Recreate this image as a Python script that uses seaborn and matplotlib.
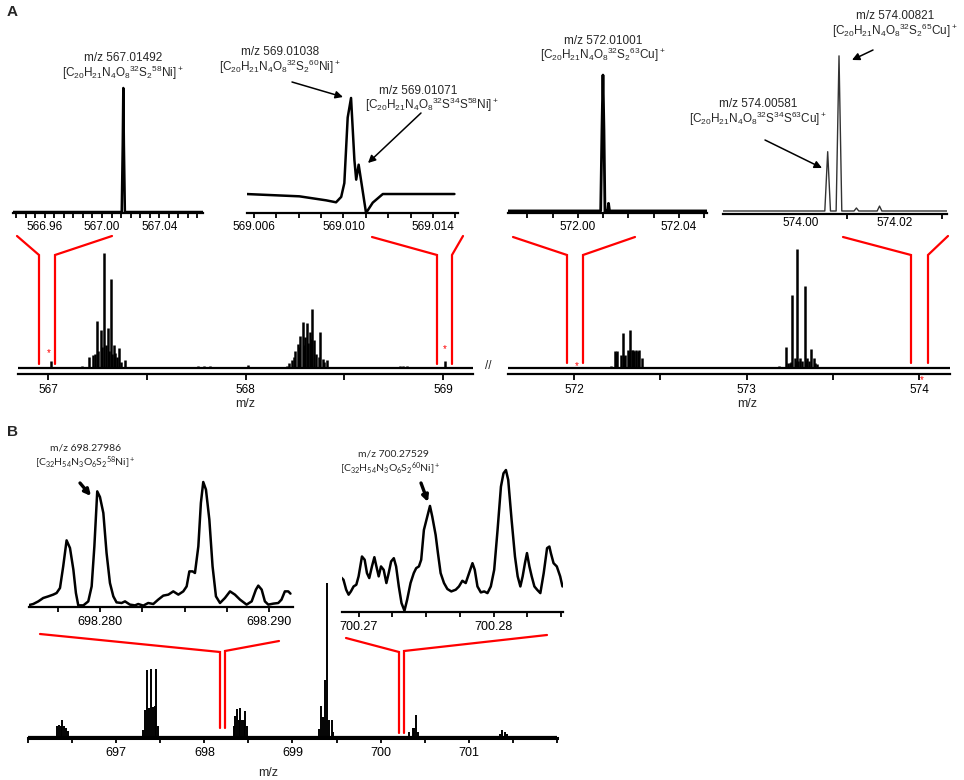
import numpy as np
import pandas as pd
import matplotlib
matplotlib.use('Agg')
import matplotlib.pyplot as plt
from matplotlib.ticker import MultipleLocator, FixedLocator, FormatStrFormatter
import seaborn as sns

sns.set_theme(style='white')
plt.rcParams['font.family'] = ['Liberation Sans', 'DejaVu Sans']
plt.rcParams['mathtext.default'] = 'regular'

W, H = 964, 780

# ---------------- DATA ----------------
# Panel A inset profiles
ins1_mz = [566.9378, 567.0138, 567.0145, 567.0149, 567.0153, 567.0160, 567.0706]
ins1_int = [0.8, 0.8, 55, 100, 55, 0.8, 0.8]

ins2_mz = [569.00565, 569.00803, 569.00923, 569.00967, 569.00990, 569.01004, 569.01019,
           569.01034, 569.01049, 569.01057, 569.01068, 569.01083, 569.01101, 569.01131,
           569.01176, 569.01496]
ins2_int = [16.5, 14.5, 11, 9.3, 14, 26, 83, 100, 46, 29, 42, 23, 0, 9, 16.5, 16.5]

ins3_mz = [571.9723, 572.0090, 572.0095, 572.0099, 572.0103, 572.0107, 572.0112,
           572.0118, 572.0121, 572.0125, 572.0511]
ins3_int = [1.5, 1.5, 60, 100, 60, 0.3, 1.5, 1.5, 7, 1.5, 1.5]

ins4_mz = [573.98361, 574.0052, 574.00581, 574.0064, 574.0076, 574.00821, 574.0088,
           574.0114, 574.0119, 574.0124, 574.0163, 574.0168, 574.0173, 574.03111]
ins4_int = [1.9, 1.9, 39.4, 1.9, 1.9, 100, 1.9, 1.9, 3.8, 1.9, 1.9, 5.0, 1.9, 1.9]

# Panel A main stick spectra
mainAL_mz = [567.015, 567.170, 567.209, 567.226, 567.240, 567.248, 567.255, 567.268,
             567.275, 567.285, 567.295, 567.302, 567.310, 567.319, 567.325, 567.333,
             567.341, 567.350, 567.358, 567.370, 567.392, 567.760, 567.790, 567.820,
             568.011, 568.080, 568.210, 568.220, 568.235, 568.245, 568.252, 568.264,
             568.270, 568.278, 568.289, 568.295, 568.300, 568.311, 568.318, 568.325,
             568.330, 568.337, 568.349, 568.355, 568.370, 568.379, 568.391, 568.400,
             568.413, 568.780, 568.800, 568.820, 569.008]
mainAL_int = [6, 1.5, 10, 11, 12, 41, 15, 33, 18, 100, 20, 35, 15, 77, 12, 20,
              13, 10, 17, 5, 7, 1.5, 2, 1.5,
              3, 1, 2, 4, 7, 10, 15, 21, 18, 28, 40, 20, 27, 39, 22, 31,
              25, 51, 24, 12, 10, 31, 8, 5, 7, 1.5, 2, 1.5, 6]

mainAR_mz = [571.800, 572.010, 572.213, 572.236, 572.244, 572.251, 572.274, 572.284,
             572.290, 572.298, 572.313, 572.320, 572.327, 572.335, 572.342, 572.350,
             572.361, 572.370, 572.377, 572.394, 572.790, 573.188, 573.227, 573.240,
             573.250, 573.260, 573.266, 573.279, 573.285, 573.295, 573.300, 573.312,
             573.320, 573.337, 573.345, 573.353, 573.365, 573.376, 573.391, 573.400,
             573.411, 573.790, 574.008]
mainAR_int = [1, 1, 2, 14, 13, 14, 11, 29, 10, 11, 15, 14, 32, 15, 15, 14,
              15, 14, 15, 8, 1, 2, 18, 4, 4, 5, 61, 8, 6, 100, 6, 8,
              6, 69, 6, 8, 6, 16, 8, 4, 3, 1, 0.6]

# Panel B inset profiles
insB1_mz = [698.27583, 698.27606, 698.27636, 698.27665, 698.27695, 698.27724, 698.27744,
            698.27764, 698.27783, 698.27803, 698.27823, 698.27843, 698.27858, 698.27872,
            698.27902, 698.27931, 698.27951, 698.27967, 698.27984, 698.28000, 698.28020,
            698.28039, 698.28059, 698.28079, 698.28098, 698.28128, 698.28148, 698.28177,
            698.28207, 698.28226, 698.28256, 698.28285, 698.28315, 698.28344, 698.28374,
            698.28404, 698.28433, 698.28463, 698.28492, 698.28512, 698.28528, 698.28547,
            698.28561, 698.28581, 698.28596, 698.28610, 698.28626, 698.28646, 698.28665,
            698.28685, 698.28709, 698.28738, 698.28768, 698.28797, 698.28827, 698.28866,
            698.28896, 698.28921, 698.28935, 698.28955, 698.28974, 698.28994, 698.29024,
            698.29053, 698.29072, 698.29092, 698.29112, 698.29125]
insB1_int = [1.6, 2.4, 4.5, 7.2, 8.5, 9.9, 11.2, 15.2, 32.5, 53.3, 47.2, 29.9, 11.2, 1.3,
             1.3, 4.5, 16.5, 48.5, 92.5, 88, 75.2, 43.2, 19.2, 8.5, 3.7, 3.2, 4.5, 1.9,
             1.3, 2.4, 1.1, 3.2, 2.4, 5.9, 9.1, 9.9, 12.5, 9.9, 12.5, 16.5, 28.5, 28.5,
             27.2, 48.5, 83.2, 100, 93.9, 69.9, 32.5, 8.5, 3.2, 7.2, 12.5, 9.9, 5.9, 1.9,
             4.5, 13.9, 17.1, 13.9, 4.5, 1.9, 2.7, 3.2, 5.9, 12.5, 12.5, 10.7]

insB2_mz = [700.26868, 700.26888, 700.26908, 700.26926, 700.26943, 700.26963, 700.26983,
            700.27000, 700.27025, 700.27045, 700.27062, 700.27079, 700.27099, 700.27117,
            700.27132, 700.27149, 700.27166, 700.27186, 700.27206, 700.27223, 700.27241,
            700.27261, 700.27278, 700.27298, 700.27318, 700.27340, 700.27360, 700.27385,
            700.27409, 700.27427, 700.27447, 700.27464, 700.27484, 700.27509, 700.27529,
            700.27546, 700.27571, 700.27588, 700.27608, 700.27633, 700.27658, 700.27687,
            700.27720, 700.27744, 700.27769, 700.27794, 700.27819, 700.27844, 700.27861,
            700.27881, 700.27906, 700.27931, 700.27955, 700.27980, 700.28005, 700.28030,
            700.28055, 700.28074, 700.28092, 700.28109, 700.28134, 700.28159, 700.28179,
            700.28199, 700.28216, 700.28233, 700.28248, 700.28266, 700.28283, 700.28303,
            700.28323, 700.28347, 700.28372, 700.28397, 700.28414, 700.28425, 700.28445,
            700.28469, 700.28494, 700.28511]
insB2_int = [24.6, 22.7, 15.7, 12.2, 14.5, 18.0, 19.2, 25.1, 39.1, 36.8, 27.4, 23.9, 32.1,
             38.6, 32.1, 25.1, 32.1, 29.7, 20.4, 27.4, 35.6, 37.9, 32.1, 18.0, 6.3, 0.9,
             8.7, 20.4, 27.4, 30.9, 32.1, 36.8, 57.8, 67.2, 74.7, 67.2, 54.3, 41.5, 27.4,
             20.4, 16.2, 14.5, 15.7, 18.0, 22.0, 20.4, 27.4, 34.4, 29.7, 18.0, 13.8, 14.5,
             13.3, 18.0, 29.7, 57.8, 88.3, 97.7, 100, 93.0, 64.9, 39.1, 25.1, 18.0, 25.1,
             34.4, 41.5, 32.1, 25.1, 18.0, 15.7, 13.3, 27.4, 45.0, 46.1, 41.5, 34.4, 32.1,
             25.1, 18.0]

# Panel B main stick spectrum
mainB_mz = [696.333, 696.356, 696.375, 696.390, 696.409, 696.428, 696.451,
            697.303, 697.322, 697.348, 697.375, 697.394, 697.417, 697.436, 697.455, 697.473,
            698.333, 698.352, 698.371, 698.390, 698.409, 698.428, 698.447, 698.466, 698.485,
            699.295, 699.322, 699.345, 699.367, 699.390, 699.413, 699.443, 699.462,
            700.326, 700.364, 700.383, 700.402, 700.420,
            701.348, 701.379, 701.405, 701.432]
mainB_int = [6.9, 7.9, 7.3, 11.2, 7.3, 5.8, 3.7,
             4.7, 17.6, 43.4, 18.7, 43.9, 19.4, 20.2, 43.9, 6.9,
             6.9, 13.4, 18.1, 11.2, 18.7, 11.2, 11.2, 17.0, 6.9,
             5.0, 20.0, 12.9, 37.2, 100, 11.0, 10.8, 3.2,
             3.2, 5.6, 6.0, 14.0, 2.8,
             1.7, 4.3, 3.4, 2.1]

f_Ni58 = r'[C$_{20}$H$_{21}$N$_4$O$_8$$^{32}$S$_2$$^{58}$Ni]$^+$'
f_Ni60 = r'[C$_{20}$H$_{21}$N$_4$O$_8$$^{32}$S$_2$$^{60}$Ni]$^+$'
f_Ni58b = r'[C$_{20}$H$_{21}$N$_4$O$_8$$^{32}$S$^{34}$S$^{58}$Ni]$^+$'
f_Cu63 = r'[C$_{20}$H$_{21}$N$_4$O$_8$$^{32}$S$_2$$^{63}$Cu]$^+$'
f_Cu65 = r'[C$_{20}$H$_{21}$N$_4$O$_8$$^{32}$S$_2$$^{65}$Cu]$^+$'
f_Cu63b = r'[C$_{20}$H$_{21}$N$_4$O$_8$$^{32}$S$^{34}$S$^{63}$Cu]$^+$'
f_B58 = r'[C$_{32}$H$_{54}$N$_3$O$_6$S$_2$$^{58}$Ni]$^+$'
f_B60 = r'[C$_{32}$H$_{54}$N$_3$O$_6$S$_2$$^{60}$Ni]$^+$'

# ---------------- FIGURE ----------------
fig = plt.figure(figsize=(W / 100, H / 100), dpi=100)


def box(x0, x1, ybot, ytop):
    return fig.add_axes([x0 / W, 1 - ybot / H, (x1 - x0) / W, (ybot - ytop) / H])


def style(ax, xlim, ylim, major, minor, fmt, labelsize=8.5, tlen=3.6, pad=2.0,
          spine_lw=1.6, major_len=None):
    ax.set_xlim(*xlim)
    ax.set_ylim(*ylim)
    for s in ['top', 'right', 'left']:
        ax.spines[s].set_visible(False)
    ax.spines['bottom'].set_linewidth(spine_lw)
    ax.spines['bottom'].set_color('black')
    ax.set_yticks([])
    ax.xaxis.set_major_locator(FixedLocator(major))
    if minor is not None:
        ax.xaxis.set_minor_locator(minor)
    ax.xaxis.set_major_formatter(FormatStrFormatter(fmt))
    ax.tick_params(axis='x', which='both', bottom=True, top=False, direction='out',
                   length=tlen, width=1.3, color='black', pad=pad,
                   labelsize=labelsize, labelcolor='black')
    if major_len is not None:
        ax.tick_params(axis='x', which='major', length=major_len)
    ax.set_xlabel('')
    ax.set_ylabel('')
    ax.patch.set_alpha(0)


def profile(ax, mz, inten, lw=1.6, color='black'):
    df = pd.DataFrame({'mz': mz, 'int': inten})
    sns.lineplot(data=df, x='mz', y='int', ax=ax, estimator=None, sort=False,
                 color=color, lw=lw, legend=False)


# inset 1
a1 = box(13, 203, 213, 60)
profile(a1, ins1_mz, ins1_int, lw=1.8)
style(a1, (566.9378, 567.0706), (0, 122.4), [566.96, 567.00, 567.04],
      MultipleLocator(0.04 / 6), '%.2f')

# inset 2
a2 = box(247, 458, 213, 60)
profile(a2, ins2_mz, ins2_int, lw=1.8)
style(a2, (569.00569, 569.01512), (0, 133), [569.006, 569.010, 569.014],
      MultipleLocator(0.001), '%.3f')

# inset 3
a3 = box(508, 707, 213, 60)
profile(a3, ins3_mz, ins3_int, lw=2.0)
style(a3, (571.9723, 572.0511), (0, 110.9), [572.00, 572.04],
      MultipleLocator(0.01), '%.2f')

# inset 4
a4 = box(723, 947, 214, 10)
profile(a4, ins4_mz, ins4_int, lw=1.0, color='#333333')
style(a4, (573.98361, 574.03111), (0, 129), [574.00, 574.02],
      FixedLocator([574.01, 574.03]), '%.2f', major_len=0)

# main A left
mL = box(18, 473, 374, 240)
mL.vlines(mainAL_mz, 0, mainAL_int, color='black', lw=1.8)
mL.axhline(0, color='black', lw=1.6)
style(mL, (566.848, 569.152), (-5.2, 111.3), [567, 568, 569], MultipleLocator(0.5),
      '%d', labelsize=8.5, tlen=4.3, pad=3.2)

# main A right
mR = box(508, 950, 374, 240)
mR.vlines(mainAR_mz, 0, mainAR_int, color='black', lw=1.8)
mR.axhline(0, color='black', lw=1.6)
style(mR, (571.617, 574.18), (-5.0, 107.3), [572, 573, 574], MultipleLocator(0.5),
      '%d', labelsize=8.5, tlen=4.3, pad=3.2)

# inset B1
b1 = box(29, 293, 607, 457)
profile(b1, insB1_mz, insB1_int, lw=1.8)
style(b1, (698.27581, 698.29140), (0, 120), [698.280, 698.290], MultipleLocator(0.0025),
      '%.3f', labelsize=9, tlen=3.6, pad=3)

# inset B2
b2 = box(342, 563, 612, 452)
profile(b2, insB2_mz, insB2_int, lw=1.8)
style(b2, (700.26877, 700.28515), (0, 112.7), [700.27, 700.28], MultipleLocator(0.0025),
      '%.2f', labelsize=9, tlen=3.6, pad=3)

# main B
mB = box(28, 557, 738, 578)
mB.vlines(mainB_mz, 0, mainB_int, color='black', lw=1.4)
mB.axhline(0, color='black', lw=1.6)
style(mB, (696.0, 702.0), (-0.8, 103.2), [697, 698, 699, 700, 701], MultipleLocator(0.5),
      '%d', labelsize=9, tlen=3.6, pad=3, spine_lw=2.2)

# ---------------- OVERLAY (connectors & text) ----------------
ov = fig.add_axes([0, 0, 1, 1], zorder=10)
ov.set_xlim(0, W)
ov.set_ylim(H, 0)
ov.axis('off')
ov.patch.set_alpha(0)

red_paths = [
    [(17, 236), (39, 255), (39, 364)], [(112, 236), (55, 255), (55, 364)],
    [(372, 237), (437, 255), (437, 364)], [(463, 236), (452, 255), (452, 364)],
    [(513, 237), (567, 255), (567, 363)], [(635, 237), (583, 255), (583, 363)],
    [(843, 237), (911, 255), (911, 363)], [(948, 236), (928, 255), (928, 363)],
    [(40, 634), (220, 652), (220, 728)], [(279, 641), (225, 651), (225, 728)],
    [(346, 638), (399, 652), (399, 733)], [(547, 635), (404, 651), (404, 733)],
]
for p in red_paths:
    xs, ys = zip(*p)
    ov.plot(xs, ys, color='#ff0000', lw=1.6, solid_joinstyle='miter')

for (x, y) in [(49, 353), (445, 349), (577, 366), (922, 380)]:
    ov.text(x, y, '*', color='#ff0000', fontsize=7, ha='center', va='center')

ov.text(488, 366, '//', fontsize=8.5, ha='center', va='center')
ov.text(7, 12, 'A', fontsize=11, fontweight='bold', ha='left', va='center')
ov.text(7, 432, 'B', fontsize=11, fontweight='bold', ha='left', va='center')
ov.text(245, 404, 'm/z', fontsize=9, ha='center', va='center')
ov.text(747, 404, 'm/z', fontsize=9, ha='center', va='center')
ov.text(268, 773, 'm/z', fontsize=9, ha='center', va='center')

fs = 8.5
ov.text(123, 58, 'm/z 567.01492', fontsize=fs, ha='center', va='center')
ov.text(123, 73, f_Ni58, fontsize=fs, ha='center', va='center')
ov.text(280, 52, 'm/z 569.01038', fontsize=fs, ha='center', va='center')
ov.text(280, 67, f_Ni60, fontsize=fs, ha='center', va='center')
ov.text(418, 91, 'm/z 569.01071', fontsize=fs, ha='center', va='center')
ov.text(432, 105, f_Ni58b, fontsize=fs, ha='center', va='center')
ov.text(603, 41, 'm/z 572.01001', fontsize=fs, ha='center', va='center')
ov.text(603, 55, f_Cu63, fontsize=fs, ha='center', va='center')
ov.text(895, 16, 'm/z 574.00821', fontsize=fs, ha='center', va='center')
ov.text(895, 31, f_Cu65, fontsize=fs, ha='center', va='center')
ov.text(758, 104, 'm/z 574.00581', fontsize=fs, ha='center', va='center')
ov.text(758, 119, f_Cu63b, fontsize=fs, ha='center', va='center')

fb = 7.5
ov.text(86, 448, 'm/z 698.27986', fontsize=fb, family=['Lato', 'DejaVu Sans'],
        ha='center', va='center')
ov.text(85, 463, f_B58, fontsize=fb, family=['Lato', 'DejaVu Sans'], ha='center', va='center')
ov.text(393, 454, 'm/z 700.27529', fontsize=fb, family=['Lato', 'DejaVu Sans'],
        ha='center', va='center')
ov.text(390, 469, f_B60, fontsize=fb, family=['Lato', 'DejaVu Sans'], ha='center', va='center')

thin = dict(arrowstyle='-|>', lw=1.1, color='black', mutation_scale=11,
            shrinkA=0, shrinkB=0)
thick = dict(arrowstyle='-|>', lw=2.4, color='black', mutation_scale=9,
             shrinkA=0, shrinkB=0)
for (x0, y0, x1, y1) in [(292, 82, 343, 97), (421, 113, 368, 163),
                         (873, 50, 852, 60), (765, 140, 822, 168)]:
    ov.annotate('', xy=(x1, y1), xytext=(x0, y0), arrowprops=thin)
for (x0, y0, x1, y1) in [(80, 483, 91, 496), (421, 483, 428, 502)]:
    ov.annotate('', xy=(x1, y1), xytext=(x0, y0), arrowprops=thick)

fig.savefig('out.png', dpi=100)
